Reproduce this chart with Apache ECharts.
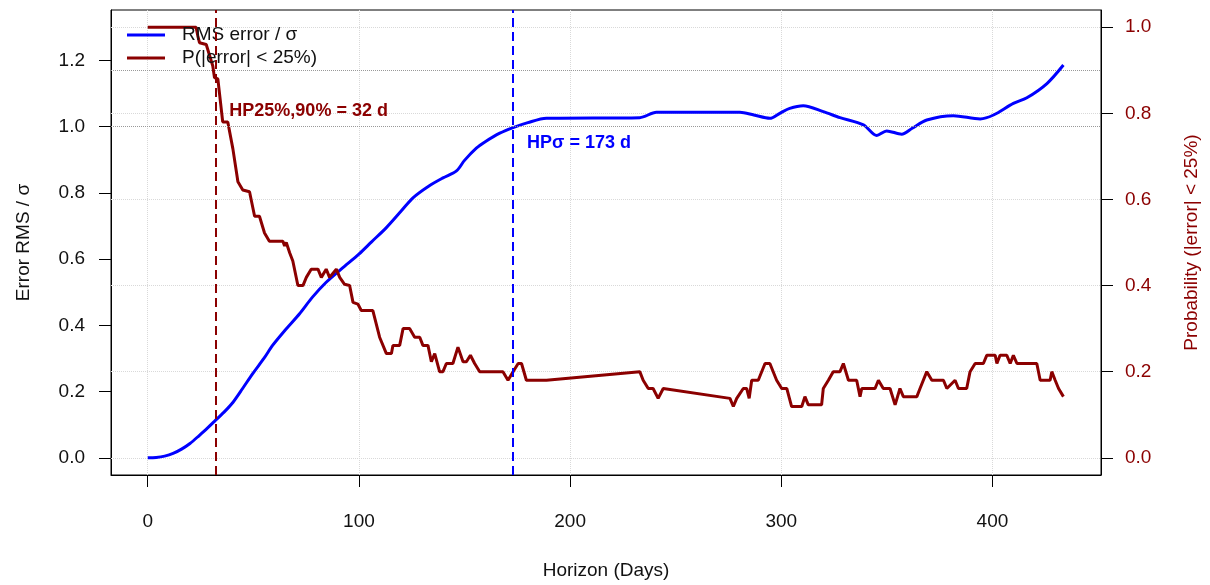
<!DOCTYPE html>
<html>
<head>
<meta charset="utf-8">
<script src="https://cdn.jsdelivr.net/npm/echarts@6/dist/echarts.min.js"></script>
<style>
html,body{margin:0;padding:0;background:#fff;}
#chart{width:1210px;height:585px;}
</style>
</head>
<body>
<div id="chart"></div>
<script>
// ---- data ----
const rmsDays = [0,4,8,12,16,20,24.5,28,31.6,36,40.3,45,49.8,55,59.2,65,71.9,78,84.5,92,100,106,113,120,125.6,133,139.8,146.2,150,155.6,160,166.7,173,180,188.8,233,240.9,280.4,287,294.6,299.3,304,310.4,319.9,327.8,338.9,345.2,349.9,357,362,368.9,381.5,394.2,400.5,409.9,416.3,425.8,433.6];
const rmsVals = [0,0.001,0.005,0.013,0.026,0.043,0.068,0.088,0.11,0.137,0.167,0.21,0.255,0.3,0.34,0.385,0.435,0.485,0.53,0.572,0.615,0.652,0.695,0.745,0.785,0.82,0.845,0.866,0.898,0.935,0.955,0.98,0.997,1.012,1.025,1.027,1.043,1.043,1.035,1.025,1.04,1.055,1.063,1.045,1.027,1.005,0.973,0.987,0.977,0.995,1.02,1.033,1.023,1.035,1.07,1.087,1.13,1.186];

const probDays = [0,22.9,23.7,24.5,27.7,30.8,31.6,33.2,35.5,37.9,40.3,42.7,45.0,48.2,50.6,52.9,55.3,57.6,64.0,64.8,65.6,67.2,68.7,71.1,73.5,75.1,77.4,80.6,82.2,84.5,86.1,89.3,90.9,93.2,95.6,97.2,99.5,101.1,106.6,109.8,113.0,115.4,116.1,119.3,120.9,124.0,126.4,128.8,130.3,132.7,134.3,135.9,138.2,139.8,141.4,144.5,146.9,149.3,150.9,152.8,154.8,157.2,168.2,170.6,173.0,175.4,177.0,179.3,188.8,233.0,234.6,237.0,239.3,241.7,244.1,275.7,277.3,278.9,282.0,283.6,284.8,286.0,289.1,292.3,294.6,297.8,300.2,302.6,304.9,309.7,311.2,312.8,319.1,319.9,322.3,324.6,327.8,329.4,331.8,335.7,337.3,338.1,344.4,346.0,348.3,351.5,353.9,356.2,357.8,364.2,365.7,368.9,371.3,376.8,378.4,382.3,383.9,387.8,389.4,391.8,395.7,397.3,401.3,402.1,403.6,406.8,408.4,409.9,411.6,421.0,422.6,427.3,428.1,429.7,431.3,433.6];
const probVals = [1.0,1.0,0.98,0.964,0.96,0.91,0.883,0.88,0.78,0.78,0.718,0.641,0.622,0.618,0.561,0.561,0.522,0.503,0.503,0.492,0.5,0.476,0.457,0.4,0.4,0.419,0.438,0.438,0.419,0.438,0.419,0.438,0.419,0.403,0.4,0.361,0.357,0.342,0.342,0.28,0.242,0.242,0.261,0.261,0.3,0.3,0.28,0.28,0.261,0.261,0.223,0.242,0.2,0.2,0.219,0.219,0.257,0.223,0.223,0.238,0.219,0.2,0.2,0.18,0.2,0.219,0.219,0.18,0.18,0.2,0.18,0.161,0.161,0.138,0.161,0.138,0.119,0.138,0.161,0.161,0.138,0.18,0.18,0.219,0.219,0.18,0.161,0.161,0.119,0.119,0.142,0.123,0.123,0.161,0.18,0.2,0.2,0.219,0.18,0.18,0.142,0.161,0.161,0.18,0.161,0.161,0.123,0.161,0.142,0.142,0.161,0.2,0.18,0.18,0.161,0.18,0.161,0.161,0.2,0.219,0.219,0.238,0.238,0.219,0.238,0.238,0.219,0.238,0.219,0.219,0.18,0.18,0.2,0.18,0.161,0.142];

const xTicks = [0,100,200,300,400];
const leftTicks = [0,0.2,0.4,0.6,0.8,1.0,1.2];
const rightTicks = [0,0.2,0.4,0.6,0.8,1.0];
const seriesNames = ['RMS error / σ','P(|error| < 25%)'];
const hp25Day = 32, hpSigmaDay = 173;
const probThreshold = 0.9, rmsThreshold = 1.0;
const hp25Label = 'HP25%,90% = 32 d';
const hpSigmaLabel = 'HPσ = 173 d';
const hp25LabelPos = [32, 0.806];
const hpSigmaLabelPos = [173, 0.95];

// ---- chart ----
const FONT = '"Liberation Sans", Arial, sans-serif';
const DARKRED = '#8B0000';
const BLUE = '#0000FF';
const zip = (a, b) => a.map((v, i) => [v, b[i]]);

const chart = echarts.init(document.getElementById('chart'), null, {renderer: 'canvas'});
const option = {
  backgroundColor: '#fff',
  animation: false,
  textStyle: {fontFamily: FONT},
  grid: {left: 111, top: 10, width: 990, height: 468, show: true, borderColor: '#000', borderWidth: 1, backgroundColor: 'transparent'},
  legend: {
    left: 122, top: 19, orient: 'vertical', icon: 'rect', itemWidth: 38, itemHeight: 3, itemGap: 1,
    textStyle: {fontFamily: FONT, fontSize: 19, color: '#111', padding: [0,0,0,12], lineHeight: 22},
    data: seriesNames
  },
  xAxis: {
    type: 'value', min: -17.4, max: 451.4,
    name: 'Horizon (Days)', nameLocation: 'middle', nameGap: 86,
    nameTextStyle: {fontFamily: FONT, fontSize: 19, color: '#111'},
    axisLine: {onZero: false, lineStyle: {color: '#000', width: 1}},
    axisTick: {show: true, customValues: xTicks, length: 12, lineStyle: {color: '#000'}},
    axisLabel: {customValues: xTicks, margin: 37, fontFamily: FONT, fontSize: 19, color: '#111', showMinLabel: true, showMaxLabel: true},
    splitLine: {show: false}
  },
  yAxis: [{
    type: 'value', position: 'left', min: -0.052, max: 1.352,
    name: 'Error RMS / σ', nameLocation: 'middle', nameGap: 78,
    nameTextStyle: {fontFamily: FONT, fontSize: 19, color: '#111'},
    axisLine: {show: true, onZero: false, lineStyle: {color: '#000', width: 1}},
    axisTick: {show: true, customValues: leftTicks, length: 12, lineStyle: {color: '#000'}},
    axisLabel: {customValues: leftTicks, margin: 26, fontFamily: FONT, fontSize: 19, color: '#111', formatter: v => v.toFixed(1)},
    splitLine: {show: false}
  }, {
    type: 'value', position: 'right', min: -0.04, max: 1.04,
    name: 'Probability (|error| < 25%)', nameLocation: 'middle', nameGap: 81,
    nameTextStyle: {fontFamily: FONT, fontSize: 19, color: DARKRED},
    axisLine: {show: true, onZero: false, lineStyle: {color: '#000', width: 1}},
    axisTick: {show: true, customValues: rightTicks, length: 12, lineStyle: {color: '#000'}},
    axisLabel: {customValues: rightTicks, margin: 24, fontFamily: FONT, fontSize: 19, color: DARKRED, formatter: v => v.toFixed(1)},
    splitLine: {show: false}
  }],
  series: [{
    name: seriesNames[0], type: 'line', xAxisIndex: 0, yAxisIndex: 0,
    data: zip(rmsDays, rmsVals), smooth: 0.3, showSymbol: false, symbol: 'none',
    lineStyle: {color: BLUE, width: 3}, itemStyle: {color: BLUE}, z: 3,
    markLine: {
      silent: true, symbol: 'none', z: 4, label: {show: false},
      data: [
        {yAxis: rmsThreshold, lineStyle: {color: '#999', type: 'dotted', width: 1}},
        {xAxis: hpSigmaDay, lineStyle: {color: BLUE, type: [9,5], width: 2}}
      ]
    },
    markPoint: {
      silent: true, symbol: 'circle', symbolSize: 0,
      data: [{coord: hpSigmaLabelPos, value: hpSigmaLabel}],
      label: {show: true, position: 'right', distance: 14, formatter: p => p.value, color: BLUE, fontFamily: FONT, fontWeight: 'bold', fontSize: 18}
    }
  }, {
    name: seriesNames[1], type: 'line', xAxisIndex: 0, yAxisIndex: 1,
    data: zip(probDays, probVals), showSymbol: false, symbol: 'none',
    lineStyle: {color: DARKRED, width: 3}, itemStyle: {color: DARKRED}, z: 3,
    markLine: {
      silent: true, symbol: 'none', z: 1, label: {show: false},
      data: rightTicks.map(v => ({yAxis: v, lineStyle: {color: '#d9d9d9', type: 'dotted', width: 1}}))
        .concat(xTicks.map(v => ({xAxis: v, lineStyle: {color: '#d9d9d9', type: 'dotted', width: 1}})))
        .concat([{yAxis: probThreshold, lineStyle: {color: '#999', type: 'dotted', width: 1}}])
    },
    markPoint: {
      silent: true, symbol: 'circle', symbolSize: 0,
      data: [{coord: hp25LabelPos, value: hp25Label}],
      label: {show: true, position: 'right', distance: 14, formatter: p => p.value, color: DARKRED, fontFamily: FONT, fontWeight: 'bold', fontSize: 18}
    }
  }, {
    name: 'hp25line', type: 'line', xAxisIndex: 0, yAxisIndex: 1, data: [], z: 4,
    markLine: {
      silent: true, symbol: 'none', z: 4, label: {show: false},
      data: [{xAxis: hp25Day, lineStyle: {color: DARKRED, type: [9,5], width: 2}}]
    }
  }]
};
chart.setOption(option);
</script>
</body>
</html>
